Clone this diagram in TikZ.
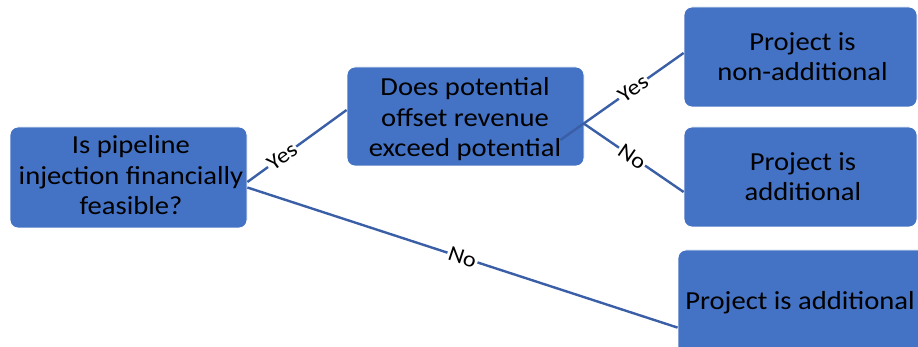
\documentclass[tikz,border=0pt]{standalone}
\usepackage{fontspec}
\setmainfont[FakeStretch=1.1]{Carlito}
\usetikzlibrary{calc}
\definecolor{boxblue}{HTML}{4472C4}
\definecolor{linkblue}{HTML}{3A5FA6}
\begin{document}
\begin{tikzpicture}[x=1pt,y=-1pt,
  box/.style={draw=white, line width=0.8pt, fill=boxblue, rounded corners=8pt, inner sep=0pt},
  boxtext/.style={align=center, font=\fontsize{26}{30.5}\selectfont, text=black, inner sep=0pt, anchor=base},
  link/.style={draw=linkblue, line width=2.4pt},
  tag/.style={fill=white, font=\fontsize{22}{24}\selectfont, inner sep=1.5pt, sloped}]
\useasboundingbox (0,0) rectangle (918,347);
\clip (0,0) rectangle (918,347);

% decision and outcome boxes
\node[box, minimum width=237pt, minimum height=101pt] (A) at (128.5,177.5) {};
\node[box, minimum width=237pt, minimum height=99pt]  (B) at (465.5,116.5) {};
\node[box, minimum width=233pt, minimum height=100pt] (C) at (800.5,57) {};
\node[box, minimum width=233pt, minimum height=100pt] (D) at (800.5,177) {};
\node[box, minimum width=250pt, minimum height=115pt] (E) at (803,307.5) {};

% connectors with their answers
\draw[link] ([yshift=-4.5pt]A.east) -- node[tag, pos=0.35] {Yes} ([yshift=6.5pt]B.west);
\draw[link] ([yshift=-10pt]A.east) -- node[tag, pos=0.5] {No} ([yshift=-78pt]E.north west);
\draw[link] ($(B.east)+(-24,23.5)$) -- node[tag, pos=0.59] {Yes} ([yshift=4pt]C.west);
\draw[link] ([yshift=-7.5pt]B.east) -- node[tag, pos=0.48] {No} ([yshift=-15pt]D.west);

% box texts (anchored on the baseline of the last line)
\node[boxtext] (At) at (131,215) {Is pipeline\\injection financially\\feasible?};
\node[boxtext] (Bt) at (465,157) {Does potential\\offset revenue\\exceed potential};
\node[boxtext] (Ct) at (802.5,81) {Project is\\non-additional};
\node[boxtext] (Dt) at (803,201) {Project is\\additional};
\node[boxtext] (Et) at (800,309) {Project is additional};
\end{tikzpicture}
\end{document}
